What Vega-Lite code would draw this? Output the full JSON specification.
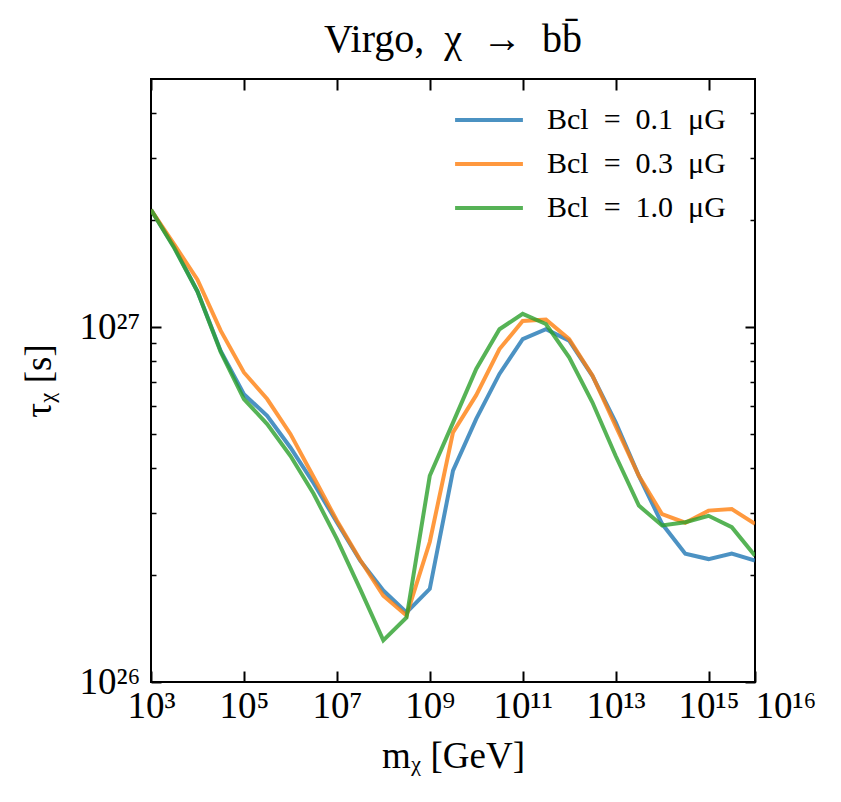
{
  "$schema": "https://vega.github.io/schema/vega-lite/v6.json",
  "width": 604,
  "height": 603,
  "autosize": "none",
  "padding": {"left": 151, "top": 79, "right": 86, "bottom": 120},
  "background": "white",
  "config": {
    "font": "Liberation Serif",
    "view": {"stroke": "black", "strokeWidth": 2},
    "axis": {
      "domain": false,
      "grid": false,
      "tickColor": "black",
      "labelColor": "black",
      "titleColor": "black",
      "titleFontWeight": "normal"
    }
  },
  "title": {
    "text": "Virgo,\u2002χ\u2002→\u2002bb̄",
    "fontSize": 40,
    "fontWeight": "normal",
    "color": "black",
    "anchor": "middle",
    "offset": 18
  },
  "data": {
    "values": [
      {"series": "Bcl\u2002=\u20020.1\u2002μG", "m": 1000, "tau": 2.14e27},
      {"series": "Bcl\u2002=\u20020.1\u2002μG", "m": 3162, "tau": 1.68e27},
      {"series": "Bcl\u2002=\u20020.1\u2002μG", "m": 10000, "tau": 1.26e27},
      {"series": "Bcl\u2002=\u20020.1\u2002μG", "m": 31623, "tau": 8.57e26},
      {"series": "Bcl\u2002=\u20020.1\u2002μG", "m": 100000, "tau": 6.47e26},
      {"series": "Bcl\u2002=\u20020.1\u2002μG", "m": 316228, "tau": 5.62e26},
      {"series": "Bcl\u2002=\u20020.1\u2002μG", "m": 1e6, "tau": 4.58e26},
      {"series": "Bcl\u2002=\u20020.1\u2002μG", "m": 3.162e6, "tau": 3.63e26},
      {"series": "Bcl\u2002=\u20020.1\u2002μG", "m": 1e7, "tau": 2.82e26},
      {"series": "Bcl\u2002=\u20020.1\u2002μG", "m": 3.162e7, "tau": 2.2e26},
      {"series": "Bcl\u2002=\u20020.1\u2002μG", "m": 1e8, "tau": 1.81e26},
      {"series": "Bcl\u2002=\u20020.1\u2002μG", "m": 3.162e8, "tau": 1.57e26},
      {"series": "Bcl\u2002=\u20020.1\u2002μG", "m": 1e9, "tau": 1.83e26},
      {"series": "Bcl\u2002=\u20020.1\u2002μG", "m": 3.162e9, "tau": 3.94e26},
      {"series": "Bcl\u2002=\u20020.1\u2002μG", "m": 1e10, "tau": 5.51e26},
      {"series": "Bcl\u2002=\u20020.1\u2002μG", "m": 3.162e10, "tau": 7.38e26},
      {"series": "Bcl\u2002=\u20020.1\u2002μG", "m": 1e11, "tau": 9.25e26},
      {"series": "Bcl\u2002=\u20020.1\u2002μG", "m": 3.162e11, "tau": 9.86e26},
      {"series": "Bcl\u2002=\u20020.1\u2002μG", "m": 1e12, "tau": 9.16e26},
      {"series": "Bcl\u2002=\u20020.1\u2002μG", "m": 3.162e12, "tau": 7.29e26},
      {"series": "Bcl\u2002=\u20020.1\u2002μG", "m": 1e13, "tau": 5.4e26},
      {"series": "Bcl\u2002=\u20020.1\u2002μG", "m": 3.162e13, "tau": 3.81e26},
      {"series": "Bcl\u2002=\u20020.1\u2002μG", "m": 1e14, "tau": 2.79e26},
      {"series": "Bcl\u2002=\u20020.1\u2002μG", "m": 3.162e14, "tau": 2.3e26},
      {"series": "Bcl\u2002=\u20020.1\u2002μG", "m": 1e15, "tau": 2.22e26},
      {"series": "Bcl\u2002=\u20020.1\u2002μG", "m": 3.162e15, "tau": 2.3e26},
      {"series": "Bcl\u2002=\u20020.1\u2002μG", "m": 1e16, "tau": 2.2e26},
      {"series": "Bcl\u2002=\u20020.3\u2002μG", "m": 1000, "tau": 2.14e27},
      {"series": "Bcl\u2002=\u20020.3\u2002μG", "m": 3162, "tau": 1.71e27},
      {"series": "Bcl\u2002=\u20020.3\u2002μG", "m": 10000, "tau": 1.36e27},
      {"series": "Bcl\u2002=\u20020.3\u2002μG", "m": 31623, "tau": 9.77e26},
      {"series": "Bcl\u2002=\u20020.3\u2002μG", "m": 100000, "tau": 7.45e26},
      {"series": "Bcl\u2002=\u20020.3\u2002μG", "m": 316228, "tau": 6.27e26},
      {"series": "Bcl\u2002=\u20020.3\u2002μG", "m": 1e6, "tau": 5.0e26},
      {"series": "Bcl\u2002=\u20020.3\u2002μG", "m": 3.162e6, "tau": 3.78e26},
      {"series": "Bcl\u2002=\u20020.3\u2002μG", "m": 1e7, "tau": 2.85e26},
      {"series": "Bcl\u2002=\u20020.3\u2002μG", "m": 3.162e7, "tau": 2.21e26},
      {"series": "Bcl\u2002=\u20020.3\u2002μG", "m": 1e8, "tau": 1.75e26},
      {"series": "Bcl\u2002=\u20020.3\u2002μG", "m": 3.162e8, "tau": 1.54e26},
      {"series": "Bcl\u2002=\u20020.3\u2002μG", "m": 1e9, "tau": 2.48e26},
      {"series": "Bcl\u2002=\u20020.3\u2002μG", "m": 3.162e9, "tau": 5.05e26},
      {"series": "Bcl\u2002=\u20020.3\u2002μG", "m": 1e10, "tau": 6.43e26},
      {"series": "Bcl\u2002=\u20020.3\u2002μG", "m": 3.162e10, "tau": 8.67e26},
      {"series": "Bcl\u2002=\u20020.3\u2002μG", "m": 1e11, "tau": 1.04e27},
      {"series": "Bcl\u2002=\u20020.3\u2002μG", "m": 3.162e11, "tau": 1.05e27},
      {"series": "Bcl\u2002=\u20020.3\u2002μG", "m": 1e12, "tau": 9.25e26},
      {"series": "Bcl\u2002=\u20020.3\u2002μG", "m": 3.162e12, "tau": 7.31e26},
      {"series": "Bcl\u2002=\u20020.3\u2002μG", "m": 1e13, "tau": 5.27e26},
      {"series": "Bcl\u2002=\u20020.3\u2002μG", "m": 3.162e13, "tau": 3.81e26},
      {"series": "Bcl\u2002=\u20020.3\u2002μG", "m": 1e14, "tau": 2.97e26},
      {"series": "Bcl\u2002=\u20020.3\u2002μG", "m": 3.162e14, "tau": 2.81e26},
      {"series": "Bcl\u2002=\u20020.3\u2002μG", "m": 1e15, "tau": 3.04e26},
      {"series": "Bcl\u2002=\u20020.3\u2002μG", "m": 3.162e15, "tau": 3.07e26},
      {"series": "Bcl\u2002=\u20020.3\u2002μG", "m": 1e16, "tau": 2.79e26},
      {"series": "Bcl\u2002=\u20021.0\u2002μG", "m": 1000, "tau": 2.14e27},
      {"series": "Bcl\u2002=\u20021.0\u2002μG", "m": 3162, "tau": 1.67e27},
      {"series": "Bcl\u2002=\u20021.0\u2002μG", "m": 10000, "tau": 1.26e27},
      {"series": "Bcl\u2002=\u20021.0\u2002μG", "m": 31623, "tau": 8.51e26},
      {"series": "Bcl\u2002=\u20021.0\u2002μG", "m": 100000, "tau": 6.27e26},
      {"series": "Bcl\u2002=\u20021.0\u2002μG", "m": 316228, "tau": 5.33e26},
      {"series": "Bcl\u2002=\u20021.0\u2002μG", "m": 1e6, "tau": 4.34e26},
      {"series": "Bcl\u2002=\u20021.0\u2002μG", "m": 3.162e6, "tau": 3.39e26},
      {"series": "Bcl\u2002=\u20021.0\u2002μG", "m": 1e7, "tau": 2.53e26},
      {"series": "Bcl\u2002=\u20021.0\u2002μG", "m": 3.162e7, "tau": 1.83e26},
      {"series": "Bcl\u2002=\u20021.0\u2002μG", "m": 1e8, "tau": 1.31e26},
      {"series": "Bcl\u2002=\u20021.0\u2002μG", "m": 3.162e8, "tau": 1.52e26},
      {"series": "Bcl\u2002=\u20021.0\u2002μG", "m": 1e9, "tau": 3.81e26},
      {"series": "Bcl\u2002=\u20021.0\u2002μG", "m": 3.162e9, "tau": 5.38e26},
      {"series": "Bcl\u2002=\u20021.0\u2002μG", "m": 1e10, "tau": 7.62e26},
      {"series": "Bcl\u2002=\u20021.0\u2002μG", "m": 3.162e10, "tau": 9.86e26},
      {"series": "Bcl\u2002=\u20021.0\u2002μG", "m": 1e11, "tau": 1.09e27},
      {"series": "Bcl\u2002=\u20021.0\u2002μG", "m": 3.162e11, "tau": 1.02e27},
      {"series": "Bcl\u2002=\u20021.0\u2002μG", "m": 1e12, "tau": 8.22e26},
      {"series": "Bcl\u2002=\u20021.0\u2002μG", "m": 3.162e12, "tau": 6.14e26},
      {"series": "Bcl\u2002=\u20021.0\u2002μG", "m": 1e13, "tau": 4.34e26},
      {"series": "Bcl\u2002=\u20021.0\u2002μG", "m": 3.162e13, "tau": 3.14e26},
      {"series": "Bcl\u2002=\u20021.0\u2002μG", "m": 1e14, "tau": 2.76e26},
      {"series": "Bcl\u2002=\u20021.0\u2002μG", "m": 3.162e14, "tau": 2.82e26},
      {"series": "Bcl\u2002=\u20021.0\u2002μG", "m": 1e15, "tau": 2.94e26},
      {"series": "Bcl\u2002=\u20021.0\u2002μG", "m": 3.162e15, "tau": 2.73e26},
      {"series": "Bcl\u2002=\u20021.0\u2002μG", "m": 1e16, "tau": 2.27e26}
    ]
  },
  "layer": [
    {
      "mark": {"type": "line", "strokeWidth": 4, "opacity": 0.8, "clip": true},
      "encoding": {
        "x": {
          "field": "m",
          "type": "quantitative",
          "scale": {"type": "log", "domain": [1000, 1e16], "nice": false},
          "axis": {
            "orient": "bottom",
            "values": [1e3, 1e5, 1e7, 1e9, 1e11, 1e13, 1e15, 1e16],
            "tickSize": -11,
            "tickWidth": 2,
            "labelPadding": 17,
            "labelFontSize": 37,
            "labelOverlap": false,
            "labelFlush": false,
            "labelAlign": {"condition": {"test": "datum.value > 5e15", "value": "left"}, "value": "center"},
            "labelExpr": "['','','','10³','','10⁵','','10⁷','','10⁹','','10¹¹','','10¹³','','10¹⁵','10¹⁶'][round(log(datum.value)/LN10)]",
            "title": "mᵪ [GeV]",
            "titleFontSize": 37,
            "titlePadding": 14
          }
        },
        "y": {
          "field": "tau",
          "type": "quantitative",
          "scale": {"type": "log", "domain": [1e26, 5e27], "nice": false},
          "axis": {
            "orient": "left",
            "values": [1e26, 1e27],
            "tickSize": -10,
            "tickWidth": 2,
            "labelPadding": 21,
            "labelFontSize": 37,
            "labelOverlap": false,
            "labelFlush": false,
            "labelExpr": "datum.value < 5e26 ? '10²⁶' : '10²⁷'",
            "title": "τᵪ [s]",
            "titleFontSize": 37,
            "titlePadding": 21
          }
        },
        "color": {
          "field": "series",
          "type": "nominal",
          "scale": {"range": ["#1f77b4", "#ff7f0e", "#2ca02c"]},
          "legend": {
            "title": null,
            "orient": "none",
            "legendX": 302,
            "legendY": 26,
            "padding": 0,
            "symbolType": "stroke",
            "symbolSize": 4600,
            "symbolStrokeWidth": 4,
            "symbolOpacity": 0.8,
            "clipHeight": 30,
            "labelFontSize": 30,
            "labelLimit": 400,
            "labelColor": "black",
            "labelOffset": 22,
            "rowPadding": 14
          }
        }
      }
    },
    {
      "mark": {"type": "point", "opacity": 0},
      "encoding": {
        "x": {
          "field": "m",
          "type": "quantitative",
          "scale": {"type": "log", "domain": [1000, 1e16], "nice": false},
          "axis": {
            "orient": "top",
            "values": [1e3, 1e5, 1e7, 1e9, 1e11, 1e13, 1e15],
            "labels": false,
            "tickSize": -11,
            "tickWidth": 2,
            "title": null
          }
        },
        "y": {
          "field": "tau",
          "type": "quantitative",
          "scale": {"type": "log", "domain": [1e26, 5e27], "nice": false},
          "axis": {
            "orient": "right",
            "values": [1e26, 1e27],
            "labels": false,
            "tickSize": -10,
            "tickWidth": 2,
            "title": null
          }
        }
      }
    },
    {
      "mark": {"type": "point", "opacity": 0},
      "encoding": {
        "x": {"field": "m", "type": "quantitative", "axis": null},
        "y": {
          "field": "tau",
          "type": "quantitative",
          "axis": {
            "orient": "left",
            "values": [2e26, 3e26, 4e26, 5e26, 6e26, 7e26, 8e26, 9e26, 2e27, 3e27, 4e27],
            "labels": false,
            "tickSize": -5,
            "tickWidth": 1.5,
            "title": null
          }
        }
      }
    },
    {
      "mark": {"type": "point", "opacity": 0},
      "encoding": {
        "x": {"field": "m", "type": "quantitative", "axis": null},
        "y": {
          "field": "tau",
          "type": "quantitative",
          "axis": {
            "orient": "right",
            "values": [2e26, 3e26, 4e26, 5e26, 6e26, 7e26, 8e26, 9e26, 2e27, 3e27, 4e27],
            "labels": false,
            "tickSize": -5,
            "tickWidth": 1.5,
            "title": null
          }
        }
      }
    }
  ],
  "resolve": {"axis": {"x": "independent", "y": "independent"}}
}
